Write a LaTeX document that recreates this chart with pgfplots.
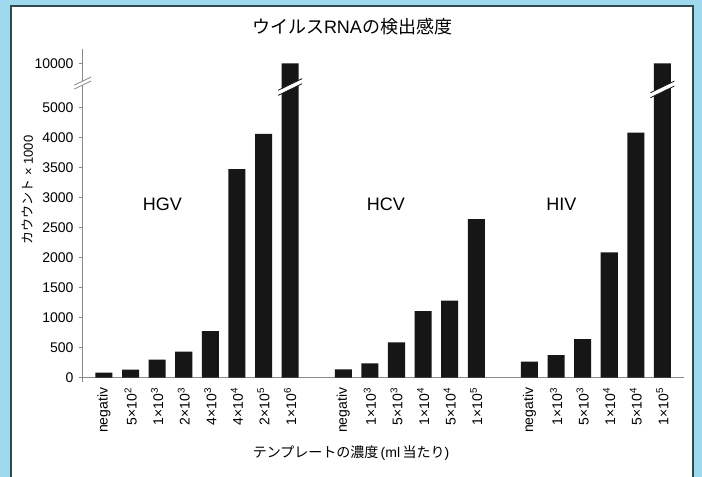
\documentclass[border=0pt]{standalone}
\usepackage{pgfplots}
\usepackage{pgfplotstable}
\pgfplotsset{compat=1.18}
\usepackage{fontspec}
\setmainfont{Liberation Sans}
\newfontfamily\cjk{Noto Sans CJK JP}
\definecolor{bgblue}{HTML}{9FD9EE}
\definecolor{framec}{HTML}{34494D}
\definecolor{barc}{HTML}{161616}
\definecolor{axc}{HTML}{8A8A8A}
% x = slot position, y = counts x 1000
\pgfplotstableread{
x y
0 83
1 133
2 300
3 433
4 778
5 3478
6 4130
7 10000
9 139
10 239
11 589
12 1111
13 1283
14 2644
16 267
17 378
18 644
19 2089
20 4170
21 10000
}\data
\begin{document}
\begin{tikzpicture}
\useasboundingbox (0,0) rectangle (702bp,477bp);
\fill[bgblue] (0,0) rectangle (702bp,477bp);
\fill[white] (11bp,0bp) rectangle (693bp,471bp);
\draw[framec, line width=2bp] (11bp,0bp) -- (11bp,471bp) -- (693bp,471bp) -- (693bp,0bp);
\begin{axis}[
  at={(82.7bp,94.5bp)}, anchor=south west,
  scale only axis, width=601bp, height=333.6bp,
  xmin=-0.8, xmax=21.8, ymin=-80, ymax=5480,
  axis lines=left,
  axis line style={-, axc, line width=1bp},
  x axis line style={draw=none},
  clip=false,
  tick align=outside,
  major tick length=4bp,
  ytick={0,500,1000,1500,2000,2500,3000,3500,4000,4500,5240},
  yticklabels={0,500,1000,1500,2000,2500,3000,3500,4000,5000,10000},
  ytick style={axc, line width=0.8bp},
  xtick={0,1,2,3,4,5,6,7,9,10,11,12,13,14,16,17,18,19,20,21},
  xticklabels={negativ,5×10\textsuperscript{2},1×10\textsuperscript{3},2×10\textsuperscript{3},4×10\textsuperscript{3},4×10\textsuperscript{4},2×10\textsuperscript{5},1×10\textsuperscript{6},
    negativ,1×10\textsuperscript{3},5×10\textsuperscript{3},1×10\textsuperscript{4},5×10\textsuperscript{4},1×10\textsuperscript{5},
    negativ,1×10\textsuperscript{3},5×10\textsuperscript{3},1×10\textsuperscript{4},5×10\textsuperscript{4},1×10\textsuperscript{5}},
  xtick style={draw=none},
  tick label style={font=\fontsize{14bp}{16bp}\selectfont},
  xticklabel style={rotate=90, anchor=east, inner sep=1bp},
  yticklabel style={inner sep=1bp, xshift=-4bp},
]
\draw[axc, line width=1bp] (axis cs:-0.8,0) -- (axis cs:21.8,0);
\addplot[ybar, bar width=0.64, fill=barc, draw=none,
  y filter/.expression={y<=4000 ? y : (y<=5000 ? 4000+(y-4000)/2 : 5240)}] table[x=x,y=y] {\data};
% bar breaks
\fill[white] (axis cs:6.55,4706) -- (axis cs:7.45,4900) -- (axis cs:7.45,4984) -- (axis cs:6.55,4790) -- cycle;
\draw[barc, line width=0.8bp] (axis cs:6.55,4706) -- (axis cs:7.45,4900);
\draw[barc, line width=0.8bp] (axis cs:6.55,4790) -- (axis cs:7.45,4984);
\fill[white] (axis cs:20.55,4666) -- (axis cs:21.45,4860) -- (axis cs:21.45,4944) -- (axis cs:20.55,4750) -- cycle;
\draw[barc, line width=0.8bp] (axis cs:20.55,4666) -- (axis cs:21.45,4860);
\draw[barc, line width=0.8bp] (axis cs:20.55,4750) -- (axis cs:21.45,4944);
% axis break
\fill[white] (axis cs:-1.12,4811) -- (axis cs:-0.48,4945) -- (axis cs:-0.48,5011) -- (axis cs:-1.12,4877) -- cycle;
\draw[axc, line width=0.8bp] (axis cs:-1.12,4811) -- (axis cs:-0.48,4945);
\draw[axc, line width=0.8bp] (axis cs:-1.12,4877) -- (axis cs:-0.48,5011);
% group labels
\node[font=\fontsize{18bp}{20bp}\selectfont] at (axis cs:2.2,2895) {HGV};
\node[font=\fontsize{18bp}{20bp}\selectfont] at (axis cs:10.6,2895) {HCV};
\node[font=\fontsize{18bp}{20bp}\selectfont] at (axis cs:17.2,2895) {HIV};
\end{axis}
\node[font=\fontsize{18bp}{20bp}\selectfont] at (352bp,450bp) {{\cjk ウイルス}RNA{\cjk の検出感度}};
\node[font=\fontsize{14bp}{16bp}\selectfont] at (351bp,24bp) {{\cjk テンプレートの濃度}\,(ml\,{\cjk 当たり})};
\node[rotate=90, font=\fontsize{13bp}{15bp}\selectfont] at (28bp,287bp) {{\cjk カウウント}\ ×\ 1000};
\end{tikzpicture}
\end{document}
